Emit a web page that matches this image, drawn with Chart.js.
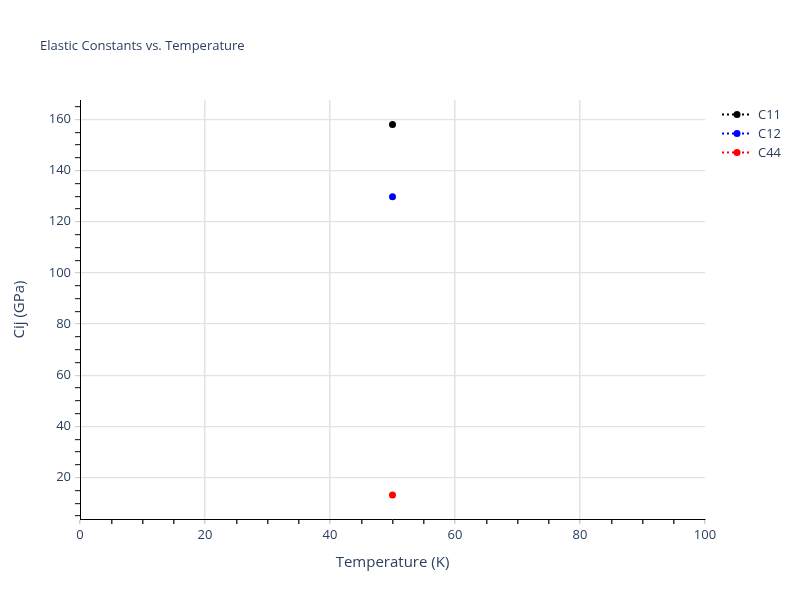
<!DOCTYPE html>
<html lang="en">
<head>
  <meta charset="UTF-8">
  <title>Elastic Constants vs. Temperature</title>
  <script src="https://cdn.jsdelivr.net/npm/chart.js"></script>
  <style>
    body { margin: 0; background: #fff; }
    #wrap { width: 800px; height: 600px; }
  </style>
</head>
<body>
<div id="wrap"><canvas id="chart" width="800" height="600"></canvas></div>
<script>
// data
const temperatures = [50];
const c11 = [158.0];
const c12 = [129.8];
const c44 = [13.2];
const seriesNames = ['C11', 'C12', 'C44'];
const seriesColors = ['black', 'blue', 'red'];
const xTickStep = 5, xLabelStep = 20;
const yTickStep = 5, yLabelStep = 20;

const textColor = '#2a3f5f';
const fontFamily = '"Open Sans", Verdana, Arial, sans-serif';

function pts(vals) { return vals.map((v, i) => ({ x: temperatures[i], y: v })); }

function stepTicks(min, max, step) {
  const out = [];
  for (let v = Math.ceil(min / step) * step; v <= max + 1e-9; v += step) out.push({ value: v });
  return out;
}

// legend drawn like plotly: dotted line with a marker in the middle
const plotlyLegend = {
  id: 'plotlyLegend',
  afterDraw(chart) {
    const ctx = chart.ctx;
    ctx.save();
    ctx.font = '13px ' + fontFamily;
    ctx.textBaseline = 'middle';
    chart.data.datasets.forEach((ds, i) => {
      const y = 114.5 + i * 19;
      ctx.strokeStyle = ds.borderColor;
      ctx.lineWidth = 2;
      ctx.setLineDash([2, 3]);
      ctx.beginPath();
      ctx.moveTo(722, y);
      ctx.lineTo(752, y);
      ctx.stroke();
      ctx.setLineDash([]);
      ctx.fillStyle = ds.borderColor;
      ctx.beginPath();
      ctx.arc(737, y, 3.5, 0, Math.PI * 2);
      ctx.fill();
      ctx.fillStyle = textColor;
      ctx.fillText(ds.label, 758, y + 0.5);
    });
    ctx.font = '13px ' + fontFamily;
    ctx.fillText('Elastic Constants vs. Temperature', 40, 46);
    ctx.restore();
  }
};

const datasets = [c11, c12, c44].map((vals, i) => ({
  label: seriesNames[i],
  data: pts(vals),
  borderColor: seriesColors[i],
  backgroundColor: seriesColors[i],
  borderDash: [2, 3],
  borderWidth: 2,
  pointRadius: 3.5,
  pointBorderWidth: 0,
  showLine: true
}));

new Chart(document.getElementById('chart'), {
  type: 'scatter',
  data: { datasets },
  options: {
    responsive: false,
    animation: false,
    layout: { padding: { top: 100, right: 95, left: 0, bottom: 0 } },
    plugins: { legend: { display: false }, tooltip: { enabled: false } },
    scales: {
      x: {
        type: 'linear',
        min: 0, max: 100,
        afterFit(scale) { scale.height = 81; },
        afterBuildTicks(scale) { scale.ticks = stepTicks(0, 100, xTickStep); },
        border: { color: 'black', width: 1 },
        grid: {
          color: c => (c.tick && c.tick.value % xLabelStep === 0 && c.tick.value > 0 && c.tick.value < 100) ? '#e2e2e2' : 'transparent',
          tickColor: c => (c.tick && c.tick.value % xLabelStep === 0) ? '#cfcfcf' : '#333',
          tickLength: 5,
          lineWidth: 1.5
        },
        ticks: {
          autoSkip: false,
          maxRotation: 0,
          padding: 3,
          color: textColor,
          font: { family: fontFamily, size: 13 },
          callback: v => (v % xLabelStep === 0 ? String(v) : '')
        },
        title: {
          display: true,
          text: 'Temperature (K)',
          color: textColor,
          font: { family: fontFamily, size: 15 },
          padding: { top: 0, bottom: 28 }
        }
      },
      y: {
        type: 'linear',
        min: 3.8, max: 167.6,
        afterFit(scale) { scale.width = 80; },
        afterBuildTicks(scale) { scale.ticks = stepTicks(3.8, 167.6, yTickStep); },
        border: { color: 'black', width: 1 },
        grid: {
          color: c => (c.tick && c.tick.value % yLabelStep === 0) ? '#e2e2e2' : 'transparent',
          tickColor: c => (c.tick && c.tick.value % yLabelStep === 0) ? '#cfcfcf' : '#333',
          tickLength: 5,
          lineWidth: 1.2
        },
        ticks: {
          autoSkip: false,
          padding: 4,
          color: textColor,
          font: { family: fontFamily, size: 13 },
          callback: v => (v % yLabelStep === 0 ? String(v) : '')
        },
        title: {
          display: true,
          text: 'Cij (GPa)',
          color: textColor,
          font: { family: fontFamily, size: 15 },
          padding: { top: 11, bottom: 0 }
        }
      }
    }
  },
  plugins: [plotlyLegend]
});
</script>
</body>
</html>
